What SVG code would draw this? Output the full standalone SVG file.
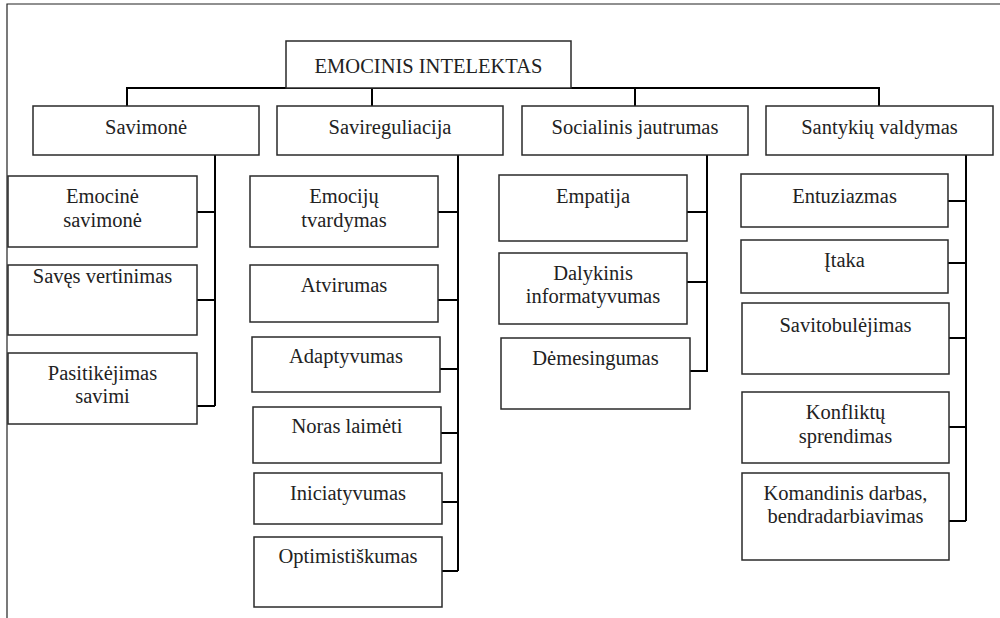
<svg xmlns="http://www.w3.org/2000/svg" width="1000" height="618" viewBox="0 0 1000 618">
<style>
.b{fill:#fff;stroke:#2a2a2a;stroke-width:1.5}
.t{font-family:'Liberation Serif','Liberation Sans',sans-serif;font-size:20.5px;fill:#222;text-anchor:middle}
.c{fill:none;stroke:#000;stroke-width:2}
.f{fill:none;stroke:#222;stroke-width:1.2}
</style>
<rect width="1000" height="618" fill="#fff"/>
<path class="f" d="M7,618 V4 H1000"/>
<g id="connectors">
<path class="c" d="M127,106 V88 H879 V106 M372,88 V106 M635,88 V106"/>
<path class="c" d="M215,155 V406 M197,212 H215 M197,300 H215 M197,406 H215"/>
<path class="c" d="M458,155 V571 M438,212 H458 M438,300 H458 M440,369 H458 M441,433 H458 M442,502 H458 M442,571 H458"/>
<path class="c" d="M707,155 V372 M687,212 H707 M687,282 H707 M690,371 H707"/>
<path class="c" d="M966,155 V521 M948,201 H966 M948,263 H966 M949,338 H966 M949,427 H966 M949,521 H966"/>
</g>
<g id="root"><rect class="b" x="286" y="41" width="285" height="47"/><text class="t" x="428.5" y="73">EMOCINIS INTELEKTAS</text></g>
<g id="savimone"><rect class="b" x="33" y="106" width="226" height="49"/><text class="t" x="146" y="134">Savimonė</text></g>
<g id="saviregulacija"><rect class="b" x="277" y="106" width="226" height="49"/><text class="t" x="390" y="134">Savireguliacija</text></g>
<g id="socialinis"><rect class="b" x="522" y="106" width="226" height="49"/><text class="t" x="635" y="134">Socialinis jautrumas</text></g>
<g id="santykiu"><rect class="b" x="766" y="106" width="227" height="49"/><text class="t" x="879.5" y="134">Santykių valdymas</text></g>

<g id="n1"><rect class="b" x="8" y="176" width="189" height="71"/><text class="t" x="102.5" y="203">Emocinė</text><text class="t" x="102.5" y="227">savimonė</text></g>
<g id="n2"><rect class="b" x="8" y="265" width="189" height="70"/><text class="t" x="102.5" y="283">Savęs vertinimas</text></g>
<g id="n3"><rect class="b" x="8" y="353" width="189" height="71"/><text class="t" x="102.5" y="380">Pasitikėjimas</text><text class="t" x="102.5" y="403">savimi</text></g>

<g id="n4"><rect class="b" x="250" y="176" width="188" height="71"/><text class="t" x="344" y="203">Emocijų</text><text class="t" x="344" y="227">tvardymas</text></g>
<g id="n5"><rect class="b" x="250" y="265" width="188" height="57"/><text class="t" x="344" y="292">Atvirumas</text></g>
<g id="n6"><rect class="b" x="252" y="337" width="188" height="55"/><text class="t" x="346" y="363">Adaptyvumas</text></g>
<g id="n7"><rect class="b" x="253" y="407" width="188" height="56"/><text class="t" x="347" y="433">Noras laimėti</text></g>
<g id="n8"><rect class="b" x="254" y="473" width="188" height="51"/><text class="t" x="348" y="500">Iniciatyvumas</text></g>
<g id="n9"><rect class="b" x="254" y="537" width="188" height="70"/><text class="t" x="348" y="563">Optimistiškumas</text></g>

<g id="n10"><rect class="b" x="499" y="175" width="188" height="66"/><text class="t" x="593" y="203">Empatija</text></g>
<g id="n11"><rect class="b" x="499" y="253" width="188" height="71"/><text class="t" x="593" y="280">Dalykinis</text><text class="t" x="593" y="303">informatyvumas</text></g>
<g id="n12"><rect class="b" x="501" y="338" width="189" height="71"/><text class="t" x="595.5" y="365">Dėmesingumas</text></g>

<g id="n13"><rect class="b" x="741" y="174" width="207" height="53"/><text class="t" x="844.5" y="203">Entuziazmas</text></g>
<g id="n14"><rect class="b" x="741" y="240" width="207" height="53"/><text class="t" x="844.5" y="267">Įtaka</text></g>
<g id="n15"><rect class="b" x="742" y="303" width="207" height="71"/><text class="t" x="845.5" y="332">Savitobulėjimas</text></g>
<g id="n16"><rect class="b" x="742" y="392" width="207" height="71"/><text class="t" x="845.5" y="419">Konfliktų</text><text class="t" x="845.5" y="443">sprendimas</text></g>
<g id="n17"><rect class="b" x="742" y="473" width="207" height="87"/><text class="t" x="845.5" y="500">Komandinis darbas,</text><text class="t" x="845.5" y="523">bendradarbiavimas</text></g>
</svg>
